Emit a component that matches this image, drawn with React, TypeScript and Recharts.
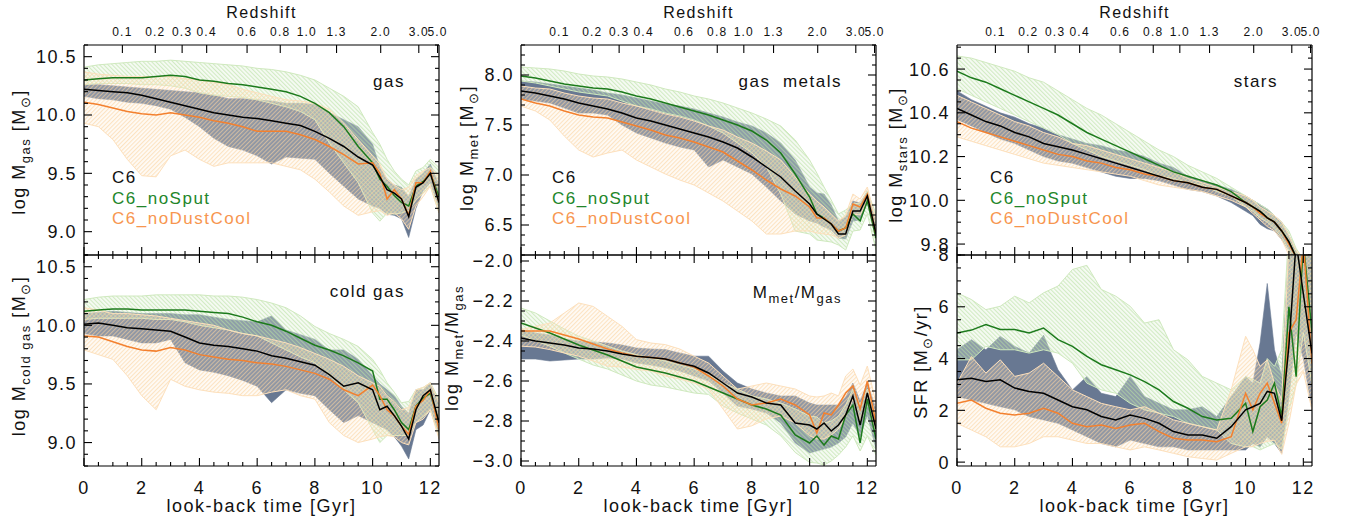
import React from 'react';
import { ComposedChart, Area, Line, XAxis, YAxis } from 'recharts';

const FONT = '"Liberation Sans", Arial, Helvetica, sans-serif';
const LS = 1.5;

// look-back time grid [Gyr]
const T = [0, 0.5, 1, 1.5, 2, 2.5, 3, 3.5, 4, 4.5, 5, 5.5, 6, 6.5, 7, 7.5, 8, 8.5, 9, 9.5, 10, 10.25, 10.5, 10.75, 11, 11.25, 11.5, 11.75, 12, 12.3];

// redshift axis (labels and their look-back time positions)
const Z_LABELS = ['0.1', '0.2', '0.3', '0.4', '0.6', '0.8', '1.0', '1.3', '2.0', '3.0', '5.0'];
const Z_LOOKBACK = [1.33, 2.47, 3.4, 4.25, 5.65, 6.8, 7.72, 8.75, 10.28, 11.6, 12.25];
const X_MAJOR = [0, 2, 4, 6, 8, 10, 12];
const X_DOMAIN: [number, number] = [0, 12.3];

// ---------- panel 1: gas ----------
const gasC6 = [10.22,10.21,10.20,10.19,10.17,10.14,10.11,10.08,10.05,10.02,10.00,9.98,9.97,9.95,9.93,9.91,9.86,9.80,9.73,9.64,9.57,9.47,9.36,9.33,9.28,9.13,9.38,9.42,9.50,9.25];
const gasC6Lo = [10.16,10.14,10.13,10.11,10.10,10.08,10.05,9.98,9.90,9.80,9.73,9.70,9.65,9.58,9.64,9.63,9.62,9.50,9.39,9.28,9.22,9.20,9.15,9.14,9.11,8.95,9.20,9.35,9.42,9.20];
const gasC6Hi = [10.26,10.26,10.25,10.24,10.23,10.22,10.21,10.20,10.19,10.17,10.14,10.14,10.13,10.12,10.10,10.10,10.09,10.02,9.96,9.90,9.75,9.55,9.45,9.40,9.38,9.30,9.45,9.50,9.58,9.40];
const gasSp = [10.30,10.31,10.32,10.32,10.32,10.33,10.34,10.33,10.30,10.29,10.27,10.26,10.24,10.22,10.20,10.16,10.10,10.02,9.90,9.73,9.59,9.45,9.39,9.31,9.25,9.22,9.39,9.43,9.50,9.30];
const gasSpLo = [10.26,10.27,10.27,10.27,10.26,10.26,10.25,10.23,10.19,10.17,10.16,10.15,10.13,10.10,10.07,10.03,9.96,9.76,9.59,9.42,9.16,9.09,9.16,9.15,9.16,9.18,9.27,9.33,9.39,9.16];
const gasSpHi = [10.41,10.43,10.44,10.45,10.46,10.46,10.47,10.46,10.45,10.44,10.43,10.42,10.40,10.39,10.37,10.34,10.30,10.23,10.16,10.07,9.85,9.75,9.62,9.52,9.45,9.40,9.52,9.55,9.62,9.55];
const gasDc = [10.11,10.09,10.06,10.03,10.01,10.00,10.02,10.00,9.98,9.95,9.93,9.90,9.86,9.86,9.86,9.83,9.79,9.73,9.66,9.58,9.59,9.50,9.28,9.36,9.28,9.14,9.42,9.42,9.52,9.25];
const gasDcLo = [9.93,9.90,9.79,9.62,9.48,9.47,9.65,9.70,9.62,9.56,9.59,9.59,9.59,9.59,9.56,9.53,9.45,9.34,9.22,9.14,9.17,9.18,9.14,9.16,9.11,9.02,9.22,9.30,9.39,9.16];
const gasDcHi = [10.37,10.35,10.34,10.33,10.33,10.33,10.33,10.31,10.30,10.28,10.26,10.22,10.19,10.16,10.13,10.12,10.10,10.05,9.93,9.79,9.65,9.58,9.45,9.40,9.36,9.38,9.48,9.52,9.55,9.47];

// ---------- panel 2: gas metals ----------
const metC6 = [7.84,7.82,7.79,7.76,7.72,7.69,7.66,7.62,7.57,7.54,7.50,7.46,7.42,7.38,7.33,7.27,7.18,7.08,6.98,6.84,6.71,6.61,6.56,6.51,6.41,6.41,6.64,6.64,6.79,6.41];
const metC6Lo = [7.76,7.74,7.72,7.67,7.62,7.62,7.60,7.50,7.42,7.37,7.32,7.28,7.25,7.08,7.15,7.08,7.01,6.88,6.74,6.61,6.54,6.52,6.48,6.45,6.37,6.36,6.54,6.55,6.72,6.37];
const metC6Hi = [7.94,7.93,7.91,7.89,7.87,7.85,7.82,7.80,7.77,7.74,7.71,7.69,7.66,7.62,7.58,7.53,7.49,7.42,7.32,7.15,6.88,6.82,6.81,6.70,6.54,6.58,6.74,6.72,6.84,6.54];
const metSp = [7.99,7.97,7.94,7.91,7.89,7.87,7.86,7.83,7.79,7.76,7.72,7.68,7.64,7.60,7.55,7.50,7.44,7.35,7.22,7.01,6.78,6.61,6.57,6.51,6.44,6.47,6.61,6.54,6.74,6.37];
const metSpLo = [7.94,7.92,7.89,7.86,7.83,7.81,7.79,7.74,7.69,7.66,7.62,7.59,7.55,7.49,7.42,7.32,7.22,7.08,6.81,6.44,6.41,6.35,6.34,6.33,6.30,6.25,6.44,6.45,6.61,6.25];
const metSpHi = [8.08,8.07,8.06,8.04,8.01,7.99,7.98,7.96,7.93,7.90,7.86,7.83,7.79,7.76,7.72,7.67,7.62,7.56,7.49,7.35,7.15,7.02,6.88,6.75,6.61,6.65,6.71,6.72,6.84,6.61];
const metDc = [7.76,7.72,7.69,7.64,7.60,7.58,7.57,7.53,7.49,7.45,7.40,7.37,7.33,7.28,7.23,7.14,7.05,6.95,6.86,6.79,6.68,6.57,6.57,6.51,6.44,6.47,6.71,6.68,6.81,6.41];
const metDcLo = [7.69,7.64,7.55,7.39,7.25,7.18,7.22,7.25,7.15,7.08,7.01,6.95,6.90,6.82,6.74,6.64,6.54,6.41,6.41,6.44,6.44,6.42,6.41,6.40,6.37,6.40,6.61,6.60,6.74,6.36];
const metDcHi = [7.89,7.87,7.86,7.82,7.79,7.77,7.76,7.72,7.69,7.65,7.61,7.58,7.54,7.49,7.45,7.38,7.32,7.24,7.15,6.98,6.81,6.74,6.68,6.61,6.54,6.60,6.81,6.76,6.88,6.54];

// ---------- panel 3: stars ----------
const starC6 = [10.42,10.39,10.36,10.34,10.31,10.29,10.26,10.245,10.23,10.21,10.19,10.17,10.15,10.13,10.11,10.09,10.08,10.06,10.05,10.02,9.99,9.97,9.95,9.92,9.90,9.86,9.81,9.74,9.65,9.60];
const starC6Lo = [10.37,10.34,10.31,10.28,10.26,10.23,10.20,10.18,10.17,10.15,10.13,10.11,10.10,10.10,10.09,10.07,10.05,10.04,10.02,9.99,9.95,9.93,9.89,9.87,9.86,9.82,9.77,9.70,9.60,9.55];
const starC6Hi = [10.50,10.46,10.43,10.40,10.38,10.35,10.33,10.30,10.28,10.26,10.25,10.23,10.22,10.20,10.17,10.15,10.11,10.09,10.07,10.05,10.02,10.00,9.98,9.96,9.93,9.90,9.84,9.77,9.70,9.65];
const starSp = [10.59,10.56,10.54,10.51,10.48,10.45,10.42,10.39,10.35,10.31,10.28,10.25,10.22,10.19,10.16,10.13,10.11,10.09,10.07,10.04,9.99,9.97,9.95,9.92,9.90,9.86,9.81,9.74,9.65,9.60];
const starSpLo = [10.51,10.48,10.45,10.42,10.39,10.36,10.33,10.30,10.26,10.23,10.20,10.18,10.16,10.14,10.11,10.10,10.08,10.07,10.04,10.02,9.97,9.95,9.92,9.90,9.87,9.83,9.77,9.70,9.60,9.55];
const starSpHi = [10.66,10.65,10.63,10.61,10.59,10.56,10.54,10.50,10.46,10.42,10.39,10.35,10.31,10.27,10.23,10.20,10.16,10.13,10.10,10.06,10.02,10.00,9.98,9.96,9.93,9.90,9.86,9.78,9.73,9.68];
const starDc = [10.36,10.33,10.31,10.29,10.27,10.25,10.23,10.21,10.20,10.18,10.17,10.15,10.14,10.12,10.11,10.09,10.08,10.06,10.05,10.02,9.99,9.97,9.94,9.92,9.90,9.86,9.80,9.74,9.65,9.60];
const starDcLo = [10.29,10.27,10.25,10.23,10.21,10.19,10.17,10.16,10.15,10.14,10.13,10.12,10.11,10.09,10.07,10.06,10.05,10.04,10.02,10.00,9.97,9.94,9.91,9.88,9.86,9.82,9.75,9.68,9.60,9.55];
const starDcHi = [10.48,10.45,10.42,10.39,10.36,10.34,10.31,10.29,10.26,10.25,10.23,10.21,10.19,10.17,10.15,10.13,10.10,10.08,10.06,10.04,10.02,10.00,9.97,9.95,9.93,9.90,9.84,9.77,9.74,9.65];

// ---------- panel 4: cold gas ----------
const coldC6 = [10.01,10.02,10.00,9.98,9.97,9.96,9.95,9.90,9.85,9.83,9.82,9.80,9.78,9.74,9.72,9.69,9.66,9.58,9.48,9.51,9.45,9.28,9.31,9.23,9.14,9.03,9.28,9.40,9.45,9.17];
const coldC6Lo = [9.93,9.91,9.91,9.88,9.85,9.85,9.88,9.68,9.62,9.60,9.57,9.53,9.48,9.34,9.45,9.42,9.40,9.28,9.17,9.23,9.17,9.14,9.11,9.05,8.97,8.86,9.11,9.15,9.28,9.06];
const coldC6Hi = [10.10,10.11,10.12,10.11,10.10,10.10,10.10,10.09,10.09,10.07,10.05,10.04,10.03,10.08,9.96,9.92,9.88,9.79,9.79,9.71,9.57,9.50,9.45,9.40,9.31,9.25,9.45,9.45,9.51,9.34];
const coldSp = [10.12,10.13,10.14,10.14,10.13,10.13,10.13,10.13,10.12,10.11,10.10,10.07,10.03,10.00,9.95,9.89,9.83,9.79,9.74,9.68,9.61,9.37,9.37,9.28,9.17,9.11,9.31,9.38,9.42,9.17];
const coldSpLo = [10.05,10.06,10.06,10.06,10.06,10.05,10.05,10.03,10.00,9.98,9.96,9.93,9.91,9.85,9.79,9.73,9.68,9.57,9.45,9.34,9.11,9.00,9.06,9.06,9.06,9.06,9.17,9.22,9.28,9.06];
const coldSpHi = [10.22,10.24,10.25,10.25,10.25,10.26,10.26,10.26,10.26,10.25,10.25,10.24,10.22,10.19,10.15,10.08,9.99,9.93,9.88,9.82,9.71,9.62,9.51,9.43,9.34,9.35,9.45,9.47,9.51,9.37];
const coldDc = [9.91,9.90,9.86,9.82,9.79,9.78,9.81,9.79,9.75,9.73,9.71,9.70,9.68,9.67,9.65,9.62,9.59,9.54,9.45,9.40,9.49,9.40,9.28,9.23,9.14,9.07,9.31,9.36,9.45,9.11];
const coldDcLo = [9.79,9.75,9.71,9.57,9.40,9.28,9.54,9.48,9.45,9.43,9.42,9.40,9.40,9.43,9.45,9.40,9.37,9.17,9.06,9.00,9.03,9.05,9.06,9.05,9.00,8.98,9.17,9.20,9.28,9.03];
const coldDcHi = [10.15,10.13,10.10,10.10,10.09,10.08,10.06,10.04,10.02,10.00,9.96,9.93,9.91,9.88,9.85,9.81,9.76,9.71,9.65,9.57,9.51,9.48,9.40,9.35,9.28,9.30,9.45,9.47,9.51,9.34];

// ---------- panel 5: Mmet/Mgas ----------
const zC6 = [-2.385,-2.40,-2.41,-2.42,-2.435,-2.44,-2.45,-2.465,-2.476,-2.483,-2.49,-2.51,-2.526,-2.56,-2.61,-2.66,-2.68,-2.71,-2.72,-2.81,-2.82,-2.84,-2.81,-2.85,-2.82,-2.77,-2.675,-2.82,-2.66,-2.84];
const zC6Lo = [-2.49,-2.49,-2.50,-2.495,-2.49,-2.49,-2.485,-2.49,-2.51,-2.52,-2.534,-2.55,-2.575,-2.60,-2.66,-2.725,-2.74,-2.76,-2.81,-2.91,-2.96,-2.95,-2.94,-2.93,-2.91,-2.88,-2.81,-2.88,-2.77,-2.94];
const zC6Hi = [-2.343,-2.36,-2.37,-2.39,-2.40,-2.405,-2.41,-2.42,-2.435,-2.44,-2.443,-2.46,-2.476,-2.476,-2.55,-2.61,-2.64,-2.66,-2.675,-2.675,-2.71,-2.72,-2.72,-2.72,-2.72,-2.68,-2.61,-2.70,-2.61,-2.74];
const zSp = [-2.31,-2.335,-2.36,-2.39,-2.42,-2.445,-2.47,-2.50,-2.53,-2.545,-2.56,-2.58,-2.60,-2.63,-2.66,-2.69,-2.72,-2.74,-2.77,-2.87,-2.91,-2.875,-2.92,-2.875,-2.89,-2.77,-2.72,-2.91,-2.69,-2.89];
const zSpLo = [-2.37,-2.40,-2.426,-2.46,-2.49,-2.52,-2.54,-2.57,-2.60,-2.62,-2.63,-2.645,-2.66,-2.667,-2.725,-2.76,-2.79,-2.82,-2.874,-2.957,-3.007,-3.01,-3.02,-3.0,-2.97,-2.93,-2.874,-2.95,-2.874,-2.97];
const zSpHi = [-2.235,-2.26,-2.30,-2.34,-2.376,-2.40,-2.426,-2.45,-2.468,-2.485,-2.50,-2.52,-2.54,-2.57,-2.61,-2.64,-2.675,-2.69,-2.71,-2.74,-2.775,-2.78,-2.81,-2.80,-2.775,-2.72,-2.64,-2.72,-2.64,-2.775];
const zDc = [-2.35,-2.35,-2.35,-2.37,-2.39,-2.415,-2.44,-2.46,-2.476,-2.483,-2.49,-2.51,-2.53,-2.575,-2.625,-2.69,-2.72,-2.71,-2.69,-2.72,-2.77,-2.86,-2.76,-2.77,-2.72,-2.66,-2.625,-2.74,-2.60,-2.81];
const zDcLo = [-2.426,-2.43,-2.443,-2.46,-2.476,-2.50,-2.526,-2.53,-2.542,-2.55,-2.575,-2.59,-2.61,-2.64,-2.74,-2.84,-2.824,-2.79,-2.775,-2.81,-2.874,-2.89,-2.89,-2.87,-2.84,-2.78,-2.69,-2.80,-2.69,-2.857];
const zDcHi = [-2.343,-2.327,-2.31,-2.26,-2.21,-2.227,-2.277,-2.327,-2.393,-2.41,-2.418,-2.44,-2.476,-2.51,-2.575,-2.64,-2.625,-2.61,-2.625,-2.64,-2.675,-2.68,-2.675,-2.66,-2.675,-2.575,-2.54,-2.62,-2.525,-2.71];

// ---------- panel 6: SFR ----------
const sfrC6 = [3.18,3.24,3.11,3.18,2.86,2.73,2.66,2.40,2.14,2.02,1.76,1.63,1.82,1.69,1.50,1.18,1.05,1.05,0.92,1.37,2.02,2.14,2.27,2.73,2.66,1.60,4.5,8.5,6.5,4.2];
const sfrC6Lo = [2.53,2.40,2.27,2.14,2.02,1.76,1.63,1.50,1.24,0.98,0.72,0.59,0.85,0.72,0.59,0.59,0.47,0.47,0.47,0.47,0.47,0.72,0.59,0.98,0.72,0.34,2.5,5.0,4.0,2.0];
const sfrC6Hi = [4.34,4.73,4.34,4.86,4.47,4.21,4.9,3.57,2.79,3.31,2.66,2.53,3.31,2.53,2.27,2.02,2.02,2.14,1.76,2.53,3.31,3.05,4.6,6.9,4.34,3.31,8.5,10,10,8];
const sfrSp = [4.99,5.10,5.31,5.12,5.12,4.99,5.18,4.73,4.47,4.08,3.76,3.57,3.37,3.11,2.79,2.34,2.08,1.76,1.63,1.69,2.27,1.18,2.14,2.40,3.05,1.76,6.0,3.3,8.5,5.0];
const sfrSpLo = [3.95,3.95,4.47,4.34,4.34,4.21,4.34,4.21,3.82,3.05,2.79,2.66,2.27,2.02,1.89,1.76,1.50,1.37,1.24,0.72,0.59,0.60,0.47,0.60,0.72,0.50,2.0,3.0,5.0,3.0];
const sfrSpHi = [6.54,6.28,5.89,6.02,6.41,6.15,6.54,6.80,7.44,7.6,6.67,6.41,6.02,5.37,5.50,4.34,3.95,3.31,3.05,2.79,3.31,3.20,3.05,4.0,3.70,4.34,9,10,10,8];
const sfrDc = [2.27,2.40,2.08,1.89,1.82,1.89,2.08,1.89,1.50,1.37,1.43,1.30,1.43,1.50,1.18,0.92,0.85,0.85,0.79,0.98,2.66,2.02,2.66,3.05,2.27,1.50,5.0,5.5,8.5,3.8];
const sfrDcLo = [1.50,1.24,0.98,0.59,0.59,0.72,0.98,0.98,0.85,0.72,0.72,0.59,0.47,0.59,0.47,0.34,0.21,0.14,0.08,0.34,0.59,0.60,0.72,0.80,0.85,0.30,1.5,3.0,3.5,2.0];
const sfrDcHi = [3.05,4.08,3.44,3.95,3.31,3.44,3.82,3.31,2.79,2.53,2.27,2.14,2.02,2.14,1.89,1.63,1.50,1.37,1.24,2.79,4.86,4.34,3.70,3.95,3.05,2.40,8.5,10,10,8];

// tick helpers
const range = (a: number, b: number, s: number) => {
  const n = Math.round((b - a) / s);
  const out: number[] = [];
  for (let i = 0; i <= n; i++) out.push(+(a + i * s).toFixed(4));
  return out;
};
const X_TICKS = range(0, 12, 0.5);

const COL_GREEN = '#1c7a1c';
const COL_ORANGE = '#f3802e';
const COL_DARK = '#687892';

function buildRows(c6: number[], c6Lo: number[], c6Hi: number[], sp: number[], spLo: number[], spHi: number[], dc: number[], dcLo: number[], dcHi: number[]) {
  return T.map((t, i) => ({
    t,
    c6: c6[i], c6Band: [c6Lo[i], c6Hi[i]],
    sp: sp[i], spBand: [spLo[i], spHi[i]],
    dc: dc[i], dcBand: [dcLo[i], dcHi[i]],
  }));
}

type Side = 'left' | 'right' | 'top' | 'bottom';

function makeTick(side: Side, majors: number[], fmt: ((v: number) => string | null) | null, fontSize = 18, ls = LS, majorLen = 8, minorLen = 4) {
  return (props: any) => {
    const { x, y, payload } = props;
    const v = payload.value as number;
    const major = majors.some((m) => Math.abs(m - v) < 1e-6);
    const L = major ? majorLen : minorLen;
    const s = fmt && major ? fmt(v) : null;
    let line: React.ReactNode = null;
    let label: React.ReactNode = null;
    const tp = { fontFamily: FONT, fontSize, fill: '#111', letterSpacing: ls } as any;
    if (side === 'left') {
      line = <line x1={x} y1={y} x2={x + L} y2={y} stroke="#000" strokeWidth={1.1} />;
      if (s) label = <text x={x - 7} y={y} dy="0.36em" textAnchor="end" {...tp}>{s}</text>;
    } else if (side === 'right') {
      line = <line x1={x} y1={y} x2={x - L} y2={y} stroke="#000" strokeWidth={1.1} />;
    } else if (side === 'bottom') {
      line = <line x1={x} y1={y} x2={x} y2={y - L} stroke="#000" strokeWidth={1.1} />;
      if (s) label = <text x={x} y={y + 28} textAnchor="middle" {...tp}>{s}</text>;
    } else {
      line = <line x1={x} y1={y} x2={x} y2={y + L} stroke="#000" strokeWidth={1.1} />;
      if (s) label = <text x={x} y={y - 9} textAnchor="middle" {...tp}>{s}</text>;
    }
    return <g>{line}{label}</g>;
  };
}

const zFmt = (v: number) => {
  const i = Z_LOOKBACK.findIndex((z) => Math.abs(z - v) < 1e-6);
  return i >= 0 ? Z_LABELS[i] : null;
};

function BottomTitle(props: any) {
  const vb = props.viewBox || {};
  return (
    <text x={vb.x + vb.width / 2} y={vb.y + 46} textAnchor="middle" fontFamily={FONT} fontSize={18} letterSpacing={LS} fill="#111">
      look-back time [Gyr]
    </text>
  );
}
function TopTitle(props: any) {
  const vb = props.viewBox || {};
  return (
    <text x={vb.x + vb.width / 2} y={vb.y + 18} textAnchor="middle" fontFamily={FONT} fontSize={16} letterSpacing={LS} fill="#111">
      Redshift
    </text>
  );
}

type Spec = {
  rows: any[];
  domain: [number, number];
  yMajor: number[];
  yTicks: number[];
  fmt: (v: number) => string;
  topRow: boolean;
  left: number;
  top: number;
};

const AX = { stroke: '#000', strokeWidth: 1.2 };
const TOP_PAD_BOTTOM_ROW = 11;
const RIGHT_PAD = 12;

function Panel({ spec }: { spec: Spec }) {
  const W = 84 + 355 + 6 + RIGHT_PAD;
  const H = spec.topRow ? 256 : TOP_PAD_BOTTOM_ROW + 211 + 58;
  return (
    <div style={{ position: 'absolute', left: spec.left, top: spec.top, width: W, height: H }}>
      <ComposedChart width={W} height={H} data={spec.rows} margin={{ top: 0, right: RIGHT_PAD, bottom: 0, left: 0 }}>
        <XAxis
          xAxisId="b" dataKey="t" type="number" domain={X_DOMAIN} allowDataOverflow
          ticks={X_TICKS} interval={0} tickSize={0} tickMargin={0} tickLine={false} axisLine={AX}
          height={spec.topRow ? 1 : 58}
          tick={makeTick('bottom', X_MAJOR, spec.topRow ? null : (v) => String(v))}
          label={spec.topRow ? undefined : <BottomTitle />}
        />
        <XAxis
          xAxisId="t" dataKey="t" orientation="top" type="number" domain={X_DOMAIN} allowDataOverflow
          ticks={spec.topRow ? Z_LOOKBACK : X_TICKS} interval={0} tickSize={0} tickMargin={0} tickLine={false} axisLine={AX}
          height={spec.topRow ? 45 : TOP_PAD_BOTTOM_ROW}
          tick={spec.topRow ? makeTick('top', Z_LOOKBACK, zFmt, 12, 1.2) : makeTick('top', X_MAJOR, null)}
          label={spec.topRow ? <TopTitle /> : undefined}
        />
        <YAxis
          yAxisId="l" type="number" domain={spec.domain} allowDataOverflow
          ticks={spec.yTicks} interval={0} tickSize={0} tickMargin={0} tickLine={false} axisLine={AX}
          width={84} tick={makeTick('left', spec.yMajor, spec.fmt)}
        />
        <YAxis
          yAxisId="r" orientation="right" type="number" domain={spec.domain} allowDataOverflow
          ticks={spec.yTicks} interval={0} tickSize={0} tickMargin={0} tickLine={false} axisLine={AX}
          width={6} tick={makeTick('right', spec.yMajor, null)}
        />
        <Area xAxisId="b" yAxisId="l" type="linear" dataKey="c6Band" stroke={COL_DARK} strokeWidth={0.6} fill={COL_DARK} fillOpacity={1} dot={false} activeDot={false} isAnimationActive={false} />
        <Area xAxisId="b" yAxisId="l" type="linear" dataKey="spBand" stroke="#cfe9be" strokeWidth={1} fill="url(#hatchG)" fillOpacity={1} dot={false} activeDot={false} isAnimationActive={false} />
        <Area xAxisId="b" yAxisId="l" type="linear" dataKey="dcBand" stroke="#fde0bc" strokeWidth={1} fill="url(#hatchO)" fillOpacity={1} dot={false} activeDot={false} isAnimationActive={false} />
        <Line xAxisId="b" yAxisId="l" type="linear" dataKey="sp" stroke={COL_GREEN} strokeWidth={1.5} dot={false} activeDot={false} isAnimationActive={false} />
        <Line xAxisId="b" yAxisId="l" type="linear" dataKey="dc" stroke={COL_ORANGE} strokeWidth={1.5} dot={false} activeDot={false} isAnimationActive={false} />
        <Line xAxisId="b" yAxisId="l" type="linear" dataKey="c6" stroke="#000" strokeWidth={1.5} dot={false} activeDot={false} isAnimationActive={false} />
      </ComposedChart>
    </div>
  );
}

const f1 = (v: number) => v.toFixed(1);
const fNeg = (v: number) => v.toFixed(1).replace('-', '\u2212');
const f0 = (v: number) => v.toFixed(0);

const BR_TOP = 255 - TOP_PAD_BOTTOM_ROW;

const SPECS: Spec[] = [
  { rows: buildRows(gasC6, gasC6Lo, gasC6Hi, gasSp, gasSpLo, gasSpHi, gasDc, gasDcLo, gasDcHi), domain: [8.8, 10.6], yMajor: [9.0, 9.5, 10.0, 10.5], yTicks: range(8.8, 10.6, 0.1), fmt: f1, topRow: true, left: 0, top: 0 },
  { rows: buildRows(metC6, metC6Lo, metC6Hi, metSp, metSpLo, metSpHi, metDc, metDcLo, metDcHi), domain: [6.2, 8.3], yMajor: [6.5, 7.0, 7.5, 8.0], yTicks: range(6.2, 8.3, 0.1), fmt: f1, topRow: true, left: 437, top: 0 },
  { rows: buildRows(starC6, starC6Lo, starC6Hi, starSp, starSpLo, starSpHi, starDc, starDcLo, starDcHi), domain: [9.75, 10.71], yMajor: [9.8, 10.0, 10.2, 10.4, 10.6], yTicks: range(9.75, 10.7, 0.05), fmt: f1, topRow: true, left: 873, top: 0 },
  { rows: buildRows(coldC6, coldC6Lo, coldC6Hi, coldSp, coldSpLo, coldSpHi, coldDc, coldDcLo, coldDcHi), domain: [8.8, 10.6], yMajor: [9.0, 9.5, 10.0, 10.5], yTicks: range(8.8, 10.6, 0.1), fmt: f1, topRow: false, left: 0, top: BR_TOP },
  { rows: buildRows(zC6, zC6Lo, zC6Hi, zSp, zSpLo, zSpHi, zDc, zDcLo, zDcHi), domain: [-3.025, -1.97], yMajor: [-3.0, -2.8, -2.6, -2.4, -2.2, -2.0], yTicks: range(-3.0, -2.0, 0.05), fmt: fNeg, topRow: false, left: 437, top: BR_TOP },
  { rows: buildRows(sfrC6, sfrC6Lo, sfrC6Hi, sfrSp, sfrSpLo, sfrSpHi, sfrDc, sfrDcLo, sfrDcHi), domain: [-0.15, 8.0], yMajor: [0, 2, 4, 6, 8], yTicks: range(0, 8, 0.5), fmt: f0, topRow: false, left: 873, top: BR_TOP },
];

// rotated axis titles: parts [text, isSubscript]
type Part = [string, boolean];
function RotTitle({ x, y, parts }: { x: number; y: number; parts: Part[] }) {
  let shift = 0;
  return (
    <text transform={`rotate(-90 ${x} ${y})`} x={x} y={y} textAnchor="middle" fontFamily={FONT} fontSize={18} letterSpacing={LS} fill="#111">
      {parts.map(([s, sub], i) => {
        const target = sub ? 5 : 0;
        const dy = target - shift;
        shift = target;
        return <tspan key={i} dy={dy} fontSize={sub ? 13 : 18}>{s}</tspan>;
      })}
    </text>
  );
}

const SUN = '\u2299';
const Y_TITLES: { x: number; y: number; parts: Part[] }[] = [
  { x: 25, y: 152, parts: [['log M', false], ['gas', true], [' [M', false], [SUN, true], [']', false]] },
  { x: 473, y: 148, parts: [['log M', false], ['met', true], [' [M', false], [SUN, true], [']', false]] },
  { x: 902, y: 155, parts: [['log M', false], ['stars', true], [' [M', false], [SUN, true], [']', false]] },
  { x: 25, y: 356, parts: [['log M', false], ['cold gas', true], [' [M', false], [SUN, true], [']', false]] },
  { x: 458, y: 348, parts: [['log M', false], ['met', true], ['/M', false], ['gas', true]] },
  { x: 927, y: 362, parts: [['SFR [M', false], [SUN, true], ['/yr]', false]] },
];

const PANEL_NAMES = [
  { x: 405, y: 87, text: 'gas' },
  { x: 842, y: 87, text: 'gas  metals' },
  { x: 1278, y: 87, text: 'stars' },
  { x: 405, y: 297, text: 'cold gas' },
];

const LEGEND_NAMES = ['C6', 'C6_noSput', 'C6_noDustCool'];
const LEGEND_COLORS = ['#111', '#23862a', '#f7964f'];
const LEGEND_X = [112, 552, 990];

export default function App() {
  return (
    <div style={{ position: 'absolute', left: 0, top: 0, width: 1346, height: 524, background: '#fff', overflow: 'hidden' }}>
      <svg width={0} height={0} style={{ position: 'absolute' }}>
        <defs>
          <pattern id="hatchG" patternUnits="userSpaceOnUse" width={3} height={3} patternTransform="rotate(-45)">
            <rect x={0} y={0} width={3} height={3} fill="#e6f4dc" fillOpacity={0.3} />
            <line x1={0.6} y1={0} x2={0.6} y2={3} stroke="#b9dfa2" strokeOpacity={0.75} strokeWidth={0.9} />
          </pattern>
          <pattern id="hatchO" patternUnits="userSpaceOnUse" width={3} height={3} patternTransform="rotate(45)">
            <rect x={0} y={0} width={3} height={3} fill="#fef0dd" fillOpacity={0.25} />
            <line x1={0.6} y1={0} x2={0.6} y2={3} stroke="#fbd3a0" strokeOpacity={0.75} strokeWidth={0.9} />
          </pattern>
        </defs>
      </svg>
      {SPECS.map((s, i) => <Panel key={i} spec={s} />)}
      <svg width={1346} height={524} style={{ position: 'absolute', left: 0, top: 0, pointerEvents: 'none' }}>
        {Y_TITLES.map((t, i) => <RotTitle key={i} x={t.x} y={t.y} parts={t.parts} />)}
        {PANEL_NAMES.map((p, i) => (
          <text key={i} x={p.x} y={p.y} textAnchor="end" fontFamily={FONT} fontSize={17} letterSpacing={LS} fill="#111" style={{ whiteSpace: 'pre' }}>{p.text}</text>
        ))}
        <text x={842} y={298} textAnchor="end" fontFamily={FONT} fontSize={17} letterSpacing={LS} fill="#111">
          M<tspan dy={5} fontSize={13}>met</tspan><tspan dy={-5}>/M</tspan><tspan dy={5} fontSize={13}>gas</tspan>
        </text>
        {LEGEND_X.map((lx, j) => (
          <g key={j}>
            {LEGEND_NAMES.map((n, i) => (
              <text key={i} x={lx} y={183 + i * 20.5} fontFamily={FONT} fontSize={17} letterSpacing={LS} fill={LEGEND_COLORS[i]}>{n}</text>
            ))}
          </g>
        ))}
      </svg>
    </div>
  );
}
